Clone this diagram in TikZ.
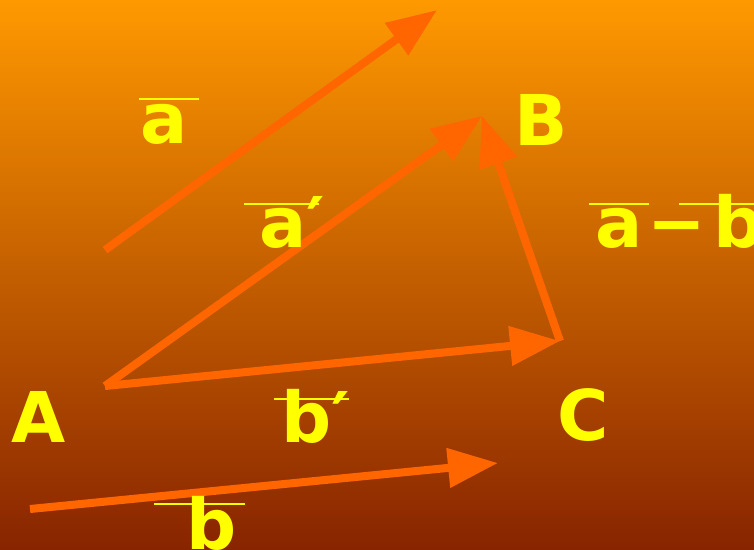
\documentclass[tikz,border=0pt]{standalone}
\usepackage{fontspec}
\usepackage{tikz}
\usetikzlibrary{arrows.meta}
\newfontfamily\lblfont{DejaVu Sans}[BoldFont={DejaVu Sans Bold}]
\definecolor{bgtop}{RGB}{255,153,0}
\definecolor{bgbot}{RGB}{136,36,0}
\definecolor{vecorange}{RGB}{255,102,0}
\definecolor{lblyellow}{RGB}{255,255,0}

\begin{document}
\begin{tikzpicture}[
  x=1pt, y=-1pt,
  vec/.style={-{Triangle[length=50pt,width=38pt]},line width=8pt,draw=vecorange},
  lbl/.style={text=lblyellow,font=\lblfont\bfseries\fontsize{70}{80}\selectfont,
    inner sep=0pt,anchor=base west},
  bar/.style={draw=lblyellow,line width=2.5pt}
]
\useasboundingbox (0,0) rectangle (754,549);
\shade[top color=bgtop,bottom color=bgbot] (0,0) rectangle (754,549);
\clip (0,0) rectangle (754,549);

\coordinate (aS) at (105,250);
\coordinate (aE) at (437,10);
\coordinate (A) at (105,386);
\coordinate (B) at (482,116);
\coordinate (C) at (560,341);
\coordinate (bS) at (30,509);
\coordinate (bE) at (498,463);

\draw[vec] (aS) -- (aE);
\draw[vec] (A) -- (B);
\draw[vec] (C) -- (B);
\draw[vec] (A) -- (C);
\draw[vec] (bS) -- (bE);

\node[lbl] (labA) at (11,442) {A};
\node[lbl] (labB) at (514,145) {B};
\node[lbl] (labC) at (557,440) {C};
\node[lbl] (laba) at (140,143) {a};
\node[lbl] (labap) at (259,247) {a′};
\node[lbl] (labamb) at (595,247) {a\kern5pt−\kern7pt b};
\node[lbl] (labbp) at (281,442) {b′};
\node[lbl] (labb) at (186,549) {b};

% bars over the vector names
\draw[bar] (139,99) -- (199,99);
\draw[bar] (244,204) -- (319,204);
\draw[bar] (589,204) -- (649,204);
\draw[bar] (679,204) -- (754,204);
\draw[bar] (274,399) -- (349,399);
\draw[bar] (154,504) -- (245,504);
\end{tikzpicture}
\end{document}
